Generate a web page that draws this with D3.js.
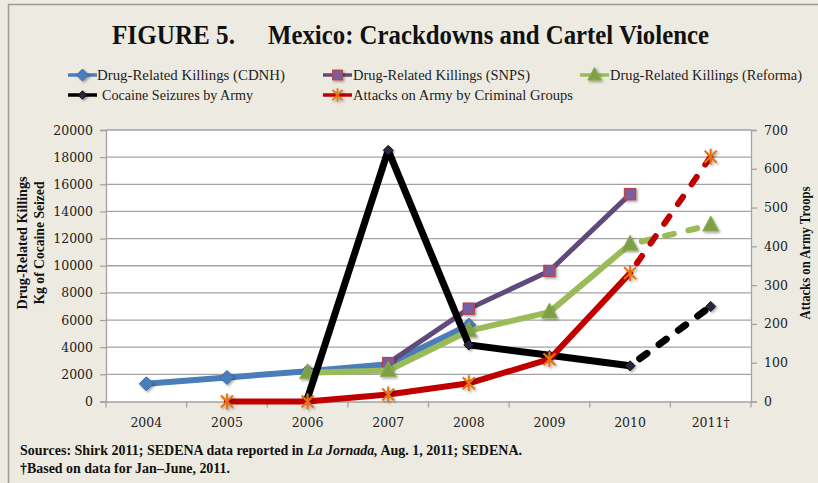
<!DOCTYPE html>
<html><head><meta charset="utf-8">
<script src="https://cdnjs.cloudflare.com/ajax/libs/d3/7.8.5/d3.min.js"></script>
<style>
html,body{margin:0;padding:0;background:#EDEBE1;}
svg{display:block;}
text{font-family:"Liberation Serif","DejaVu Serif",serif;}
.num{font-family:"DejaVu Serif",serif;font-size:12.5px;fill:#222;}
</style></head>
<body>
<svg id="chart" width="818" height="483"></svg>
<script>
// ---- data ----
const categories = ["2004","2005","2006","2007","2008","2009","2010","2011†"];
const killingsCDNH   = [1304, 1776, 2221, 2750, 5630, null, null, null];
const killingsSNPS   = [null, null, null, 2826, 6837, 9614, 15273, null];
const killingsReforma= [null, null, 2120, 2275, 5207, 6587, 11583, 13000];
const cocaineSeized  = [null, null, 250, 18500, 4170, 3400, 2630, 7000];
const attacksOnArmy  = [null, 0, 0, 18, 47, 109, 331, 631];
const leftTicks  = [0,2000,4000,6000,8000,10000,12000,14000,16000,18000,20000];
const rightTicks = [0,100,200,300,400,500,600,700];
const projectedFrom = "2010"; // last segment to 2011† drawn dashed

const svg = d3.select("#chart");
const W = 818, H = 483;
const plot = {l:106, r:751, t:130, b:401.5};

svg.append("rect").attr("width",W).attr("height",H).attr("fill","#EDEBE1");
svg.append("path").attr("d",`M8.5,${H}V4.5H${W}`).attr("fill","none").attr("stroke","#9a9a9a").attr("stroke-width",1.5);

// title
svg.append("text").attr("x",112).attr("y",44).attr("font-size",28).attr("font-weight","bold")
  .attr("textLength",123).attr("lengthAdjust","spacingAndGlyphs").attr("fill","#111").text("FIGURE 5.");
svg.append("text").attr("x",268).attr("y",44).attr("font-size",28).attr("font-weight","bold")
  .attr("textLength",441).attr("lengthAdjust","spacingAndGlyphs").attr("fill","#111").text("Mexico: Crackdowns and Cartel Violence");

// scales
const x = d3.scaleBand().domain(categories).range([plot.l, plot.r]);
const cx = c => x(c) + x.bandwidth()/2;
const y = d3.scaleLinear().domain([0,20000]).range([plot.b, plot.t]);
const y2 = d3.scaleLinear().domain([0,700]).range([plot.b, plot.t]);

svg.append("rect").attr("x",plot.l).attr("y",plot.t).attr("width",plot.r-plot.l).attr("height",plot.b-plot.t).attr("fill","#fff");

svg.append("g").selectAll("line").data(leftTicks.filter(d=>d>0)).join("line")
  .attr("x1",plot.l).attr("x2",plot.r).attr("y1",d=>y(d)).attr("y2",d=>y(d))
  .attr("stroke","#a3a3a3").attr("stroke-width",1.3);

const gl = svg.append("g").attr("transform",`translate(${plot.l},0)`)
  .call(d3.axisLeft(y).tickValues(leftTicks).tickSize(6).tickPadding(7).tickFormat(d3.format("d")));
gl.select(".domain").attr("stroke","#a3a3a3").attr("stroke-width",1.3);
gl.selectAll(".tick line").attr("stroke","#a3a3a3").attr("stroke-width",1.3);
gl.selectAll(".tick text").attr("class","num").attr("font-family",null).attr("font-size",null);

const gr = svg.append("g").attr("transform",`translate(${plot.r},0)`)
  .call(d3.axisRight(y2).tickValues(rightTicks).tickSize(6).tickPadding(7).tickFormat(d3.format("d")));
gr.select(".domain").attr("stroke","#a3a3a3").attr("stroke-width",1.3);
gr.selectAll(".tick line").attr("stroke","#a3a3a3").attr("stroke-width",1.3);
gr.selectAll(".tick text").attr("class","num").attr("font-family",null).attr("font-size",null);

const gb = svg.append("g").attr("transform",`translate(0,${plot.b})`)
  .call(d3.axisBottom(x).tickSize(0).tickPadding(17));
gb.select(".domain").attr("stroke","#a3a3a3").attr("stroke-width",1.3);
gb.selectAll(".tick text").attr("class","num").attr("font-family",null).attr("font-size",null);
const bounds = categories.map(c=>x(c)).concat([plot.r]);
svg.append("g").selectAll("line").data(bounds).join("line")
  .attr("x1",d=>d).attr("x2",d=>d).attr("y1",plot.b).attr("y2",plot.b+6)
  .attr("stroke","#a3a3a3").attr("stroke-width",1.3);

// axis titles
svg.append("text").attr("transform","translate(27,243) rotate(-90)").attr("text-anchor","middle")
  .attr("font-size",15).attr("font-weight","bold").attr("textLength",133).attr("lengthAdjust","spacingAndGlyphs")
  .attr("fill","#111").text("Drug-Related Killings");
svg.append("text").attr("transform","translate(44,243) rotate(-90)").attr("text-anchor","middle")
  .attr("font-size",15).attr("font-weight","bold").attr("textLength",123).attr("lengthAdjust","spacingAndGlyphs")
  .attr("fill","#111").text("Kg of Cocaine Seized");
svg.append("text").attr("transform","translate(810,253) rotate(-90)").attr("text-anchor","middle")
  .attr("font-size",15).attr("font-weight","bold").attr("textLength",133).attr("lengthAdjust","spacingAndGlyphs")
  .attr("fill","#111").text("Attacks on Army Troops");

// markers
const defs = svg.append("defs");
const f = defs.append("filter").attr("id","sh").attr("x","-50%").attr("y","-50%").attr("width","200%").attr("height","200%");
f.append("feDropShadow").attr("dx",1.5).attr("dy",1.5).attr("stdDeviation",1.2).attr("flood-color","#000").attr("flood-opacity",0.35);

function drawMarker(g, type, px, py, k){
  k = k || 1;
  if(type==="diamond"){
    const r=7*k;
    g.append("path").attr("d",`M${px},${py-r}L${px+r},${py}L${px},${py+r}L${px-r},${py}Z`)
      .attr("fill","#4A7EBB").attr("stroke","#3A6AA5").attr("stroke-width",1).attr("filter","url(#sh)");
  } else if(type==="square"){
    const r=5.5*k;
    g.append("rect").attr("x",px-r).attr("y",py-r).attr("width",2*r).attr("height",2*r)
      .attr("fill","#7A5FA0").attr("stroke","#B5474A").attr("stroke-width",1.5).attr("filter","url(#sh)");
  } else if(type==="triangle"){
    g.append("path").attr("d",`M${px},${py-9*k}L${px+8*k},${py+6*k}L${px-8*k},${py+6*k}Z`)
      .attr("fill","#7E9F45").attr("stroke","#8DB050").attr("stroke-width",1).attr("filter","url(#sh)");
  } else if(type==="bdiamond"){
    const r=5*k;
    g.append("path").attr("d",`M${px},${py-r}L${px+r},${py}L${px},${py+r}L${px-r},${py}Z`)
      .attr("fill","#2A2540").attr("stroke","#111").attr("stroke-width",1).attr("filter","url(#sh)");
  } else if(type==="star"){
    const r=8*k;
    g.append("path").attr("d",`M${px-r*0.75},${py-r*0.75}L${px+r*0.75},${py+r*0.75}M${px+r*0.75},${py-r*0.75}L${px-r*0.75},${py+r*0.75}M${px},${py-r}L${px},${py+r}`)
      .attr("stroke","#E8700F").attr("stroke-width",2*k).attr("fill","none").attr("filter","url(#sh)");
  }
}

const series = [
  {name:"Drug-Related Killings (CDNH)", vals:killingsCDNH, scale:y, color:"#4A7EBB", w:6, marker:"diamond", dashLast:false},
  {name:"Drug-Related Killings (SNPS)", vals:killingsSNPS, scale:y, color:"#604A7B", w:5, marker:"square", dashLast:false},
  {name:"Drug-Related Killings (Reforma)", vals:killingsReforma, scale:y, color:"#9BBB59", w:6, marker:"triangle", dashLast:true},
  {name:"Cocaine Seizures by Army", vals:cocaineSeized, scale:y, color:"#000000", w:7, marker:"bdiamond", dashLast:true},
  {name:"Attacks on Army by Criminal Groups", vals:attacksOnArmy, scale:y2, color:"#C00000", w:6, marker:"star", dashLast:true}
];

const lineGen = sc => d3.line().defined(d=>d.v!=null).x(d=>cx(d.c)).y(d=>sc(d.v));
const pIdx = categories.indexOf(projectedFrom);
const plotG = svg.append("g");
series.forEach(s=>{
  const pts = categories.map((c,i)=>({c, v:s.vals[i]}));
  const solid = s.dashLast ? pts.slice(0,pIdx+1) : pts;
  const g = plotG.append("g");
  g.append("path").datum(solid).attr("d",lineGen(s.scale)).attr("fill","none")
    .attr("stroke",s.color).attr("stroke-width",s.w).attr("stroke-linejoin","round").attr("stroke-linecap","round");
  if(s.dashLast){
    g.append("path").datum(pts.slice(pIdx)).attr("d",lineGen(s.scale)).attr("fill","none")
      .attr("stroke",s.color).attr("stroke-width",s.w).attr("stroke-dasharray","9,15").attr("stroke-linecap","round")
      .attr("stroke-dashoffset",-12);
  }
  pts.filter(d=>d.v!=null).forEach(d=>drawMarker(g, s.marker, cx(d.c), s.scale(d.v)));
});

// legend
const legendPos = [[68,75],[323,75],[580,75],[68,95],[323,95]];
const legendTextX = [97,353,610,102,353];
const legendTextW = [188,177,192,151,220];
series.forEach((s,i)=>{
  const [lx,ly] = legendPos[i];
  const g = svg.append("g");
  g.append("line").attr("x1",lx).attr("x2",lx+29).attr("y1",ly).attr("y2",ly)
    .attr("stroke",s.color).attr("stroke-width",3.5);
  drawMarker(g, s.marker, lx+14.5, ly, 0.85);
  g.append("text").attr("x",legendTextX[i]).attr("y",ly+5).attr("font-size",14.5).attr("fill","#222")
    .attr("textLength",legendTextW[i]).attr("lengthAdjust","spacingAndGlyphs").text(s.name);
});

// footnotes
const fnParts = [["Sources: Shirk 2011; SEDENA data reported in ", "normal"], ["La Jornada,", "italic"], [" Aug. 1, 2011; SEDENA.", "normal"]];
let fx = 20;
fnParts.forEach(([t,st])=>{
  const el = svg.append("text").attr("x",fx).attr("y",455).attr("font-size",14).attr("font-weight","bold")
    .attr("font-style",st).attr("fill","#111").style("white-space","pre").attr("xml:space","preserve").text(t);
  fx += el.node().getComputedTextLength();
});
svg.append("text").attr("x",20).attr("y",473).attr("font-size",14).attr("font-weight","bold").attr("fill","#111")
  .attr("textLength",210).attr("lengthAdjust","spacingAndGlyphs")
  .text("†Based on data for Jan–June, 2011.");
</script>
</body></html>
